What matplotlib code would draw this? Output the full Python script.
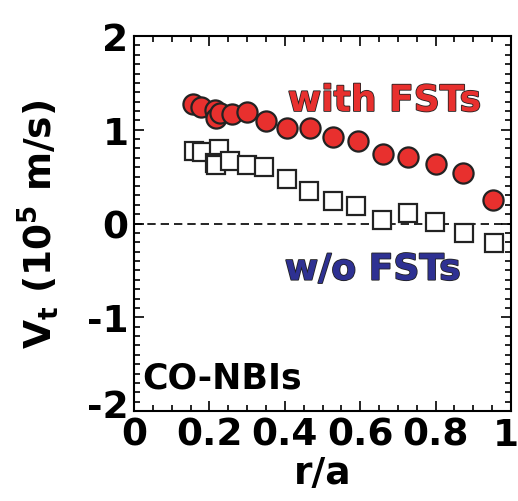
import numpy as np
import matplotlib.pyplot as plt
import matplotlib.patheffects as pe
import matplotlib.transforms as mtransforms
from matplotlib.ticker import MultipleLocator

plt.rcParams['font.family'] = ['DejaVu Sans']
plt.rcParams['font.weight'] = 'bold'
plt.rcParams['mathtext.default'] = 'bf'
plt.rcParams['axes.unicode_minus'] = False

# with FSTs (red circles)
r_with = [0.157, 0.178, 0.215, 0.218, 0.228, 0.259, 0.299, 0.350, 0.405, 0.467,
          0.527, 0.593, 0.660, 0.728, 0.800, 0.873, 0.953]
v_with = [1.27, 1.24, 1.21, 1.12, 1.18, 1.17, 1.19, 1.09, 1.02, 1.02,
          0.92, 0.88, 0.74, 0.71, 0.63, 0.54, 0.25]

# w/o FSTs (open squares)
r_wo = [0.159, 0.180, 0.226, 0.215, 0.218, 0.255, 0.299, 0.345, 0.405, 0.465,
        0.527, 0.590, 0.659, 0.728, 0.798, 0.875, 0.955]
v_wo = [0.77, 0.76, 0.79, 0.65, 0.62, 0.67, 0.62, 0.60, 0.47, 0.35,
        0.24, 0.19, 0.04, 0.11, 0.02, -0.10, -0.21]

xticks = [0, 0.2, 0.4, 0.6, 0.8, 1]
xticklabels = ['0', '0.2', '0.4', '0.6', '0.8', '1']
yticks = [-2, -1, 0, 1, 2]
yticklabels = ['-2', '-1', '0', '1', '2']

fig = plt.figure(figsize=(5.18, 5.02), dpi=100)
ax = fig.add_axes([134 / 518, 1 - 412 / 502, 377 / 518, 375 / 502])

ax.axhline(0, color='black', lw=1.2, ls=(0, (5, 3)), zorder=1)
ax.plot(r_wo, v_wo, 's', ms=12.5, mfc='white', mec='#222222', mew=1.6, zorder=2)
ax.plot(r_with, v_with, 'o', ms=14.5, mfc='#E8302E', mec='#222222', mew=1.6, zorder=3)

ax.set_xlim(0, 1)
ax.set_ylim(-2, 2)
ax.set_xticks(xticks)
ax.set_xticklabels(xticklabels)
ax.set_yticks(yticks)
ax.set_yticklabels(yticklabels)
ax.xaxis.set_minor_locator(MultipleLocator(0.05))
ax.yaxis.set_minor_locator(MultipleLocator(0.1))
ax.tick_params(which='both', direction='in', top=True, right=True, width=1.2)
ax.tick_params(which='major', length=7, labelsize=27)
ax.tick_params(axis='x', which='major', pad=4)
ax.tick_params(axis='y', which='major', pad=4)
ax.tick_params(which='minor', length=4)
for s in ax.spines.values():
    s.set_linewidth(1.5)

# nudge the corner labels like the original
last = ax.get_xticklabels()[-1]
last.set_transform(last.get_transform() +
                   mtransforms.ScaledTranslation(-5 / 100, 0, fig.dpi_scale_trans))
low = ax.get_yticklabels()[0]
low.set_transform(low.get_transform() +
                  mtransforms.ScaledTranslation(0, 8 / 100, fig.dpi_scale_trans))

ax.set_xlabel('r/a', fontsize=27, fontweight='bold', labelpad=2)
ax.set_ylabel('V$_t$ (10$^5$ m/s)', fontsize=27, fontweight='bold', labelpad=18)

outline = [pe.withStroke(linewidth=1.2, foreground='#222222')]
ax.text(0.408, 1.20, 'with FSTs', color='#E8302E', fontsize=26, fontweight='bold',
        path_effects=outline)
ax.text(0.40, -0.60, 'w/o FSTs', color='#2E3192', fontsize=26, fontweight='bold',
        path_effects=outline)
ax.text(0.021, -1.75, 'CO-NBIs', color='black', fontsize=25, fontweight='bold')

fig.savefig('out.png', dpi=100)
